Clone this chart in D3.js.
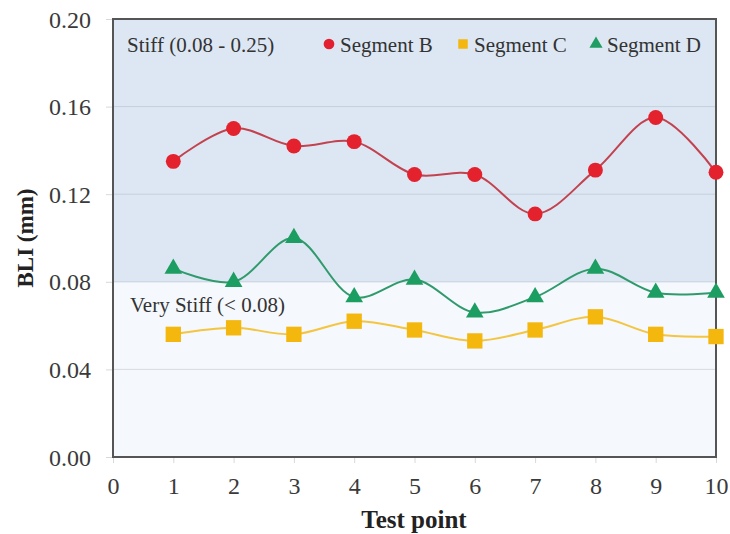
<!DOCTYPE html>
<html>
<head>
<meta charset="utf-8">
<script src="https://cdn.jsdelivr.net/npm/d3@7"></script>
<style>
  html, body { margin: 0; padding: 0; background: #fff; }
  svg { display: block; }
</style>
</head>
<body>
<svg id="chart" width="730" height="534"></svg>
<script>
// Test points along the x axis
const testPoints = [1, 2, 3, 4, 5, 6, 7, 8, 9, 10];
// BLI (mm) per segment
const segmentB = [0.135, 0.150, 0.142, 0.144, 0.129, 0.129, 0.111, 0.131, 0.155, 0.130];
const segmentC = [0.056, 0.059, 0.056, 0.062, 0.058, 0.053, 0.058, 0.064, 0.056, 0.055];
const segmentD = [0.086, 0.080, 0.100, 0.073, 0.081, 0.066, 0.073, 0.086, 0.075, 0.075];
const seriesNames = ["Segment B", "Segment C", "Segment D"];
// Axis ticks
const xTicks = [0, 1, 2, 3, 4, 5, 6, 7, 8, 9, 10];
const yTicks = [0.00, 0.04, 0.08, 0.12, 0.16, 0.20];
// Stiffness bands
const stiffBand = [0.08, 0.20];
const veryStiffBand = [0.00, 0.08];

const serif = "'Liberation Serif', 'Times New Roman', serif";
const svg = d3.select("#chart");
const m = { left: 113, right: 716, top: 19, bottom: 457 };

const x = d3.scaleLinear().domain([0, 10]).range([m.left, m.right]);
const y = d3.scaleLinear().domain([0, 0.20]).range([m.bottom, m.top]);

// Band backgrounds
svg.append("rect")
  .attr("x", x(0)).attr("width", x(10) - x(0))
  .attr("y", y(stiffBand[1])).attr("height", y(stiffBand[0]) - y(stiffBand[1]))
  .attr("fill", "#dde7f3");
svg.append("rect")
  .attr("x", x(0)).attr("width", x(10) - x(0))
  .attr("y", y(veryStiffBand[1])).attr("height", y(veryStiffBand[0]) - y(veryStiffBand[1]))
  .attr("fill", "#f5f8fc");

// Horizontal gridlines
svg.append("g").selectAll("line")
  .data(yTicks.filter(t => t > 0 && t < 0.20))
  .join("line")
  .attr("x1", x(0)).attr("x2", x(10))
  .attr("y1", d => y(d)).attr("y2", d => y(d))
  .attr("stroke", d => d >= 0.08 ? "#c5d0de" : "#d8dbe0")
  .attr("stroke-width", 1);

// Axes
const yAxis = d3.axisLeft(y).tickValues(yTicks).tickFormat(d3.format(".2f")).tickSize(7).tickPadding(15);
const gy = svg.append("g").attr("transform", `translate(${m.left},0)`).call(yAxis);
const xAxis = d3.axisBottom(x).tickValues(xTicks).tickFormat(d3.format("d")).tickSize(6).tickPadding(14);
const gx = svg.append("g").attr("transform", `translate(0,${m.bottom})`).call(xAxis);
[gx, gy].forEach(g => {
  g.select(".domain").remove();
  g.selectAll(".tick line").attr("stroke", "#d8d8d8");
  g.selectAll(".tick text")
    .attr("fill", "#3a3a3a")
    .style("font-family", serif)
    .style("font-size", "24px");
});
gy.selectAll(".tick text").attr("dy", "0.34em");

// Plot frame
svg.append("rect")
  .attr("x", x(0)).attr("y", y(0.20))
  .attr("width", x(10) - x(0)).attr("height", y(0) - y(0.20))
  .attr("fill", "none").attr("stroke", "#555").attr("stroke-width", 2);

// Axis titles
svg.append("text")
  .attr("x", 414).attr("y", 528)
  .attr("text-anchor", "middle")
  .style("font-family", serif)
  .style("font-size", "25px").style("font-weight", "bold").attr("fill", "#222")
  .text("Test point");
svg.append("text")
  .attr("transform", `translate(33,${(y(0) + y(0.20)) / 2}) rotate(-90)`)
  .attr("text-anchor", "middle")
  .style("font-family", serif)
  .style("font-size", "23px").style("font-weight", "bold").attr("fill", "#222")
  .text("BLI (mm)");

// Band labels
svg.append("text").attr("x", 127).attr("y", 52)
  .style("font-family", serif).style("font-size", "21px").attr("fill", "#333")
  .text("Stiff (0.08 - 0.25)");
svg.append("text").attr("x", 130).attr("y", 312)
  .style("font-family", serif).style("font-size", "21px").attr("fill", "#333")
  .text("Very Stiff (< 0.08)");

// Series
const series = [
  { name: seriesNames[0], values: segmentB, line: "#c2434f", fill: "#e3202f", shape: d3.symbolCircle, size: 175, legendSize: 90 },
  { name: seriesNames[1], values: segmentC, line: "#f3c541", fill: "#f4b70f", shape: d3.symbolSquare, size: 235, legendSize: 90 },
  { name: seriesNames[2], values: segmentD, line: "#2f9a6c", fill: "#1f9d62", shape: d3.symbolTriangle, size: 135, legendSize: 75 }
];

const lineGen = d3.line()
  .x((d, i) => x(testPoints[i]))
  .y(d => y(d))
  .curve(d3.curveCatmullRom.alpha(0.5));

const defs = svg.append("defs");
const soft = defs.append("filter").attr("id", "soft")
  .attr("x", "-50%").attr("y", "-50%").attr("width", "200%").attr("height", "200%");
soft.append("feGaussianBlur").attr("stdDeviation", 0.6);

series.forEach(s => {
  svg.append("path")
    .datum(s.values)
    .attr("d", lineGen)
    .attr("fill", "none")
    .attr("stroke", s.line)
    .attr("stroke-width", 2);
  svg.append("g").selectAll("path")
    .data(s.values)
    .join("path")
    .attr("transform", (d, i) => `translate(${x(testPoints[i])},${y(d)})`)
    .attr("d", d3.symbol().type(s.shape).size(s.size))
    .attr("fill", s.fill)
    .attr("filter", "url(#soft)");
});

// Legend
const legendX = [329, 463, 596];
series.forEach((s, i) => {
  const g = svg.append("g").attr("transform", `translate(${legendX[i]},44)`);
  g.append("path")
    .attr("d", d3.symbol().type(s.shape).size(s.legendSize))
    .attr("fill", s.fill);
  g.append("text").attr("x", 11).attr("y", 8)
    .style("font-family", serif).style("font-size", "21px").attr("fill", "#333")
    .text(s.name);
});
</script>
</body>
</html>
